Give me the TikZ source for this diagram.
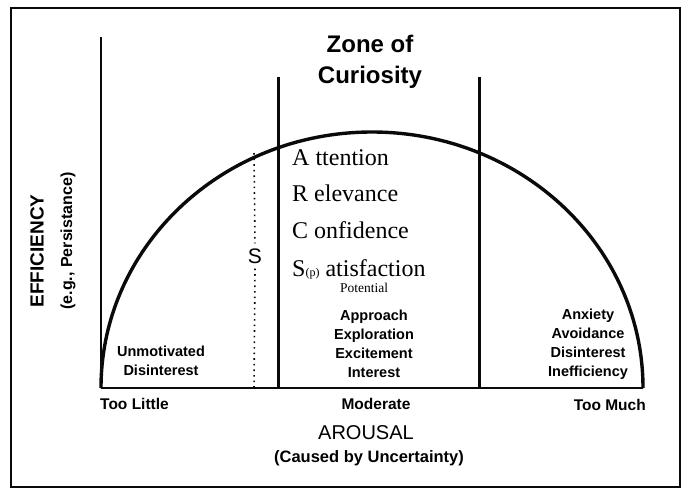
\documentclass[tikz,border=0pt]{standalone}
\usepackage{fontspec}
\setmainfont{Liberation Serif}
\setsansfont{Liberation Sans}
\usetikzlibrary{calc}
\definecolor{inkline}{RGB}{10,10,10}

\begin{document}
\begin{tikzpicture}[x=1pt,y=-1pt,
    sanslabel/.style={font=\sffamily\bfseries\fontsize{14.5}{19}\selectfont,align=center,inner sep=0pt},
    endlabel/.style={font=\sffamily\bfseries\fontsize{15.5}{15.5}\selectfont,inner sep=0pt},
    arcsword/.style={anchor=base west,font=\fontsize{24}{24}\selectfont,inner sep=0pt},
    dotline/.style={inkline,line width=1.6pt,dash pattern=on 1.6pt off 4pt}]
    \useasboundingbox (0,0) rectangle (689,491);
    % frame
    \draw[inkline,line width=2.6pt] (11,8) rectangle (680,487);
    % axes
    \draw[inkline,line width=1.3pt] (101,37) -- (101,388);
    \draw[inkline,line width=1.6pt] (101,388) -- (643,388);
    % curve
    \draw[inkline,line width=3.4pt] (101,388) arc[start angle=180,end angle=360,x radius=271,y radius=256];
    % zone borders
    \draw[inkline,line width=3pt] (278,77) -- (278,388);
    \draw[inkline,line width=3pt] (479,77) -- (479,388);
    % titles
    \node[font=\sffamily\bfseries\fontsize{24}{31}\selectfont,align=center] (zone) at (370,62) {Zone of\\Curiosity};
    \node[font=\sffamily\fontsize{21}{21}\selectfont,inner sep=5pt] (s) at (255,256) {S};
    \coordinate (stop) at (254,153);
    \coordinate (sbot) at (254,388);
    \draw[dotline] (stop) -- (s.north);
    \draw[dotline] (s.south) -- (sbot);
    % ARCS
    \node[arcsword] (attn) at (292,165) {A ttention};
    \node[arcsword] (relv) at (292,201) {R elevance};
    \node[arcsword] (conf) at (292,238) {C onfidence};
    \node[arcsword] (satf) at (292,276) {S{\fontsize{12}{12}\selectfont (p)} atisfaction};
    \node[anchor=base,font=\fontsize{13.5}{13.5}\selectfont,inner sep=0pt] (pot) at (364,292) {Potential};
    % regions
    \node[sanslabel] (low) at (161,361) {Unmotivated\\Disinterest};
    \node[sanslabel] (mid) at (374,344) {Approach\\Exploration\\Excitement\\Interest};
    \node[sanslabel] (high) at (588,344) {Anxiety\\Avoidance\\Disinterest\\Inefficiency};
    % axis labels
    \node[endlabel,anchor=west] (little) at (100,404) {Too Little};
    \node[endlabel] (moderate) at (376,404) {Moderate};
    \node[endlabel,anchor=east] (much) at (646,405) {Too Much};
    \node[font=\sffamily\fontsize{20}{20}\selectfont] (arousal) at (366,433) {AROUSAL};
    \node[font=\sffamily\bfseries\fontsize{16.5}{16.5}\selectfont] (caused) at (369,458) {(Caused by Uncertainty)};
    \node[rotate=90,font=\sffamily\bfseries\fontsize{19}{19}\selectfont] (effic) at (37,251) {EFFICIENCY};
    \node[rotate=90,font=\sffamily\bfseries\fontsize{16}{16}\selectfont] (persist) at (68,241) {(e.g., Persistance)};
\end{tikzpicture}
\end{document}
